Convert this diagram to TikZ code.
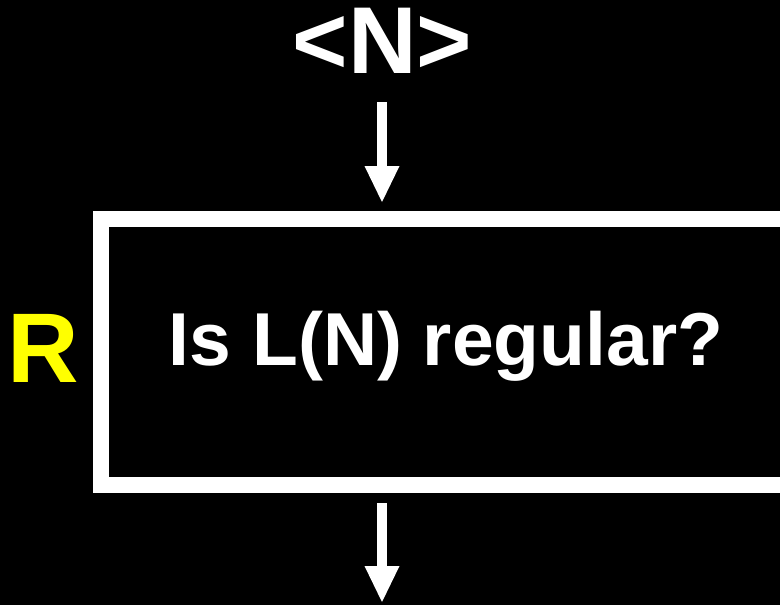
\documentclass[tikz,border=0pt]{standalone}
\usepackage{fontspec}
\setmainfont{Liberation Sans}
\usetikzlibrary{arrows.meta}
\definecolor{ylw}{RGB}{255,255,0}
\begin{document}
\begin{tikzpicture}[x=1pt,y=-1pt,
  txt/.style={text=white,inner sep=0pt,font=\bfseries},
  arr/.style={draw=white,line width=10pt,-{Triangle[width=35pt,length=36pt,line width=0pt]}},
  boxst/.style={draw=white,line width=16pt,minimum width=690pt,minimum height=266pt,inner sep=0pt,fill=black}]
\fill[black] (0,0) rectangle (780,605);
\useasboundingbox (0,0) rectangle (780,605);
\clip (0,0) rectangle (780,605);
\node[boxst] (box) at (446,352) {};
\node[txt,anchor=base,font=\bfseries\fontsize{75pt}{75pt}\selectfont] (q) at (446,365) {Is L(N) regular?};
\node[txt,anchor=base,text=ylw,font=\bfseries\fontsize{99pt}{99pt}\selectfont] (r) at (43,382) {R};
\node[txt,anchor=base,font=\bfseries\fontsize{95pt}{95pt}\selectfont] (n) at (382.5,73) {<N>};
\coordinate (in) at (382,102);
\coordinate (out) at (382,602);
\draw[arr,shorten >=9pt] (in) -- (in |- box.north);
\draw[arr,shorten <=10pt] (out |- box.south) -- (out);
\end{tikzpicture}
\end{document}
